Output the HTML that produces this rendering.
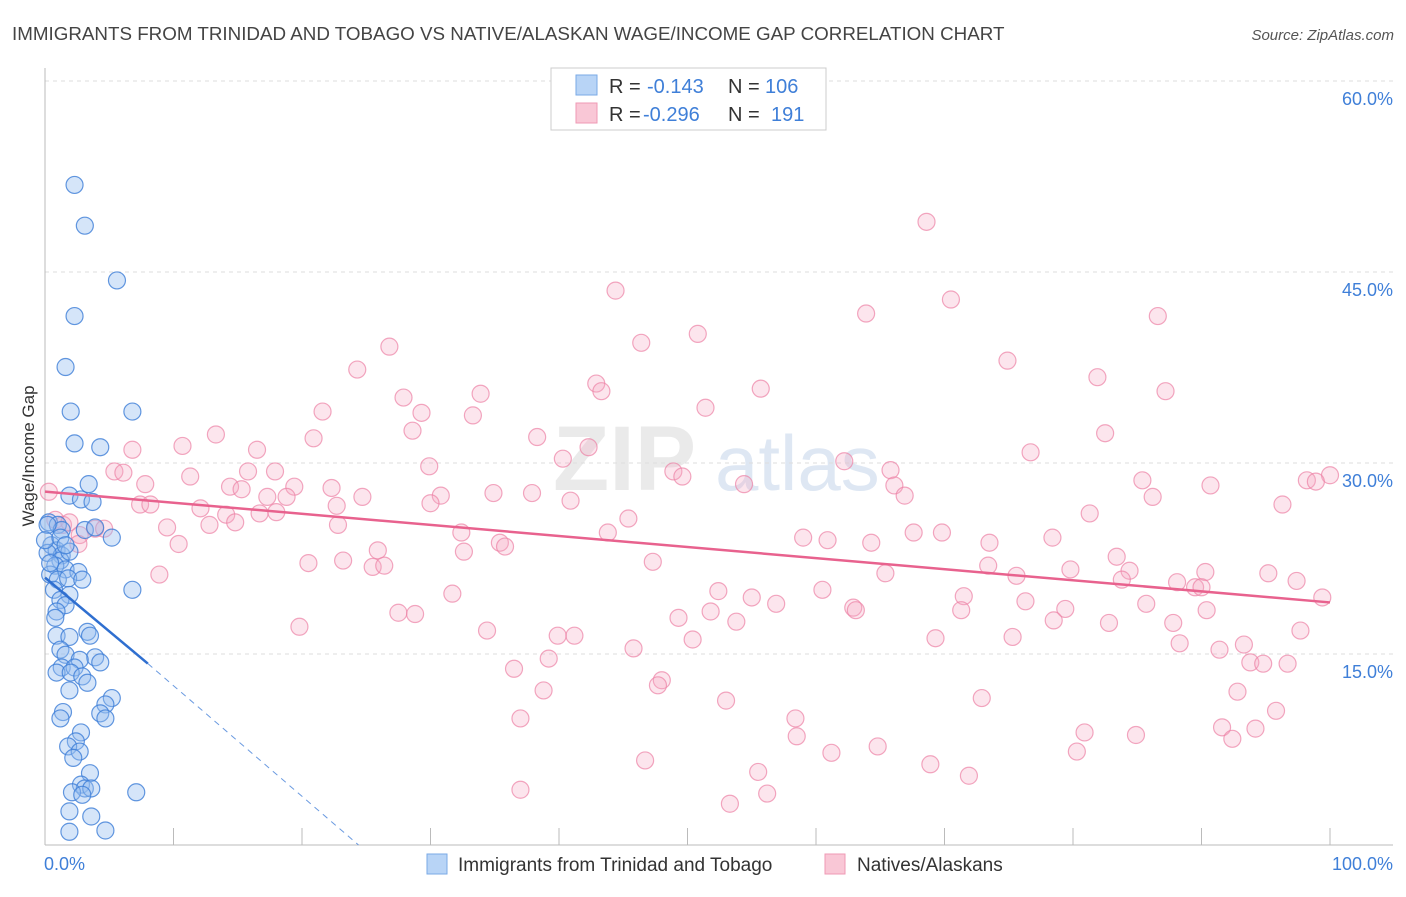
<!DOCTYPE html>
<html><head><meta charset="utf-8">
<style>
body{margin:0;background:#fff;font-family:"Liberation Sans",sans-serif;}
svg text{font-family:"Liberation Sans",sans-serif;}
</style></head>
<body>
<svg id="chart" width="1406" height="892" viewBox="0 0 1406 892" xmlns="http://www.w3.org/2000/svg">
<text x="12" y="40" font-size="18.8" fill="#444">IMMIGRANTS FROM TRINIDAD AND TOBAGO VS NATIVE/ALASKAN WAGE/INCOME GAP CORRELATION CHART</text>
<text x="1394" y="40" font-size="15" fill="#555" text-anchor="end" font-style="italic">Source: ZipAtlas.com</text>
<g>
<text x="553" y="490" font-size="92" fill="#ddd" font-family="Liberation Serif" font-weight="bold" opacity="0.6">ZIP</text>
<text x="715" y="490" font-size="78" fill="#c9d8ec" opacity="0.6">atlas</text>
</g>
<g id="grid"></g>
<g id="axes"></g>
<g id="pink"></g>
<g id="blue"></g>
<g id="lines"></g>
<text transform="translate(34,456) rotate(-90)" font-size="17" fill="#333" text-anchor="middle">Wage/Income Gap</text>
<g>
<rect x="551" y="68" width="275" height="62" fill="#fff" stroke="#ccc"/>
<rect x="576" y="75" width="21" height="20" fill="#b8d4f6" stroke="#7aaae6"/>
<rect x="576" y="103" width="21" height="20" fill="#f9c7d6" stroke="#ef9ab4"/>
<text x="609" y="93" font-size="20" fill="#333">R =</text>
<text x="647" y="93" font-size="20" fill="#3f7fd8">-0.143</text>
<text x="728" y="93" font-size="20" fill="#333">N =</text>
<text x="765" y="93" font-size="20" fill="#3f7fd8">106</text>
<text x="609" y="121" font-size="20" fill="#333">R =</text>
<text x="643" y="121" font-size="20" fill="#3f7fd8">-0.296</text>
<text x="728" y="121" font-size="20" fill="#333">N =</text>
<text x="771" y="121" font-size="20" fill="#3f7fd8">191</text>
</g>
<g>
<rect x="427" y="854" width="20" height="20" fill="#b8d4f6" stroke="#7aaae6"/>
<text x="458" y="871" font-size="19" fill="#333">Immigrants from Trinidad and Tobago</text>
<rect x="825" y="854" width="20" height="20" fill="#f9c7d6" stroke="#ef9ab4"/>
<text x="857" y="871" font-size="19" fill="#333">Natives/Alaskans</text>
</g>
</svg>
<script>
const yTicks=[15,30,45,60];
const yTickLabels=["15.0%","30.0%","45.0%","60.0%"];
const xTicks=[0,10,20,30,40,50,60,70,80,90,100];
const xEndLabels=["0.0%","100.0%"];
const blueX=[2.3,3.1,5.6,2.3,1.6,2.0,6.8,2.3,4.3,1.9,2.8,3.7,3.4,5.2,0.3,1.0,1.3,0.5,0.9,1.3,0.2,1.2,1.9,0.8,1.6,2.6,0.4,1.0,1.8,2.9,0.7,1.9,1.2,1.6,0.9,0.8,6.8,0.9,1.9,3.3,3.5,1.2,1.6,3.9,2.7,1.3,0.9,4.3,2.3,2.0,2.9,3.3,1.9,5.2,4.7,1.4,4.3,4.7,1.2,2.8,2.4,1.8,2.7,2.2,3.5,2.8,3.1,2.1,3.6,7.1,2.9,1.9,3.6,1.9,4.7,0.2,0.0,3.1,3.9,1.2,0.4,1.6];
const blueY=[53.1,49.9,45.6,42.8,38.8,35.3,35.3,32.8,32.5,28.7,28.4,28.2,29.6,25.4,26.6,26.4,26.0,24.8,24.4,24.0,24.2,23.6,24.3,23.2,22.9,22.7,22.5,22.1,22.2,22.1,21.3,20.9,20.5,20.1,19.6,19.1,21.3,17.7,17.6,18.0,17.7,16.6,16.2,16.0,15.8,15.2,14.8,15.6,15.2,14.8,14.5,14.0,13.4,12.8,12.3,11.7,11.6,11.2,11.2,10.1,9.4,9.0,8.6,8.1,6.9,6.0,5.7,5.4,5.7,5.4,5.2,3.9,3.5,2.3,2.4,26.4,25.2,26.0,26.2,25.4,23.4,24.8].map(v=>+(v-1.26).toFixed(2));
const pinkX=[68.6,44.4,70.5,63.9,86.6,50.8,46.4,26.8,74.9,24.3,42.9,81.9,55.7,43.3,33.9,87.2,27.9,51.4,21.6,29.3,33.3,82.5,28.6,38.3,13.3,10.7,20.9,6.8,16.5,76.7,40.3,29.9,42.3,62.2,48.9,5.4,6.1,15.8,17.9,11.3,85.4,90.7,98.2,100,98.9,65.8,49.6,54.4,66.1,7.8,14.4,15.3,19.4,22.3,30.8,34.9,37.9,18.8,17.3,66.9,86.2,96.3,7.4,8.2,22.7,24.7,30.0,40.9,12.1,14.1,18.0,9.5,12.8,14.8,16.7,22.8,32.4,81.3,45.4,43.8,59.0,60.9,64.3,67.6,69.8,73.5,78.4,10.4,25.9,32.6,35.4,35.8,73.4,83.4,20.5,23.2,47.3,25.5,26.4,84.4,90.3,95.2,79.8,8.9,65.4,75.6,71.5,55.0,52.4,60.5,71.3,31.7,88.1,89.5,90.0,83.8,97.4,99.4,56.9,51.8,49.3,62.9,79.4,85.7,90.4,76.3,87.8,53.8,27.5,28.8,19.8,34.4,39.9,41.2,50.4,63.1,78.5,82.8,97.7,88.3,91.4,93.3,93.8,94.8,96.7,75.3,69.3,45.8,39.2,36.5,48.0,47.7,38.8,53.0,72.9,92.8,95.8,58.4,37.0,80.9,91.6,94.2,58.5,84.9,92.4,64.8,61.2,80.3,46.7,68.9,55.5,71.9,37.0,56.2,53.3,0.3,0.8,1.4,1.9,2.7,3.9,4.6,2.6];
const pinkY=[50.2,44.8,44.1,43.0,42.8,41.4,40.7,40.4,39.3,38.6,37.5,38.0,37.1,36.9,36.7,36.9,36.4,35.6,35.3,35.2,35.0,33.6,33.8,33.3,33.5,32.6,33.2,32.3,32.3,32.1,31.6,31.0,32.5,31.4,30.6,30.6,30.5,30.6,30.6,30.2,29.9,29.5,29.9,30.3,29.8,30.7,30.2,29.6,29.5,29.6,29.4,29.2,29.4,29.3,28.7,28.9,28.9,28.6,28.6,28.7,28.6,28.0,28.0,28.0,27.9,28.6,28.1,28.3,27.7,27.2,27.4,26.2,26.4,26.6,27.3,26.4,25.8,27.3,26.9,25.8,25.4,25.2,25.0,25.8,25.8,25.0,25.4,24.9,24.4,24.3,25.0,24.7,23.2,23.9,23.4,23.6,23.5,23.1,23.2,22.8,22.7,22.6,22.9,22.5,22.6,22.4,20.8,20.7,21.2,21.3,19.7,21.0,21.9,21.5,21.5,22.1,22.0,20.7,20.2,19.6,19.1,19.9,19.8,20.2,19.7,20.4,18.7,18.8,19.5,19.4,18.4,18.1,17.7,17.7,17.4,19.7,18.9,18.7,18.1,17.1,16.6,17.0,15.6,15.5,15.5,17.6,17.5,16.7,15.9,15.1,14.2,13.8,13.4,12.6,12.8,13.3,11.8,11.2,11.2,10.1,10.5,10.4,9.8,9.9,9.6,9.0,8.5,8.6,7.9,7.6,7.0,6.7,5.6,5.3,4.5,29.0,26.8,26.4,26.6,25.6,26.1,26.1,24.9].map(v=>+(v-1.26).toFixed(2));
const blueTrendX=[0,8,24.4];
const blueTrendY=[21.0,14.25,0];
const pinkTrendX=[0,100];
const pinkTrendY=[27.75,19.05];

const NS="http://www.w3.org/2000/svg";
const X=v=>45+v*12.85;
const Y=v=>845-v*12.733;
function mk(tag,attrs,parent){const e=document.createElementNS(NS,tag);for(const k in attrs)e.setAttribute(k,attrs[k]);parent.appendChild(e);return e;}
const grid=document.getElementById('grid'),axes=document.getElementById('axes');
yTicks.forEach((t,i)=>{
  const l=mk('line',{x1:45,x2:1393,y1:Y(t),y2:Y(t),stroke:'#ddd','stroke-dasharray':'4,4'},grid);
  
  
  const tx=mk('text',{x:1393,y:Y(t)+24,'font-size':18,fill:'#3f7fd8','text-anchor':'end'},axes);
  tx.textContent=yTickLabels[i];
  
  
});
const yl=mk('line',{x1:45,x2:45,y1:68,y2:845,stroke:'#bbb'},axes);


const xl=mk('line',{x1:45,x2:1393,y1:845,y2:845,stroke:'#bbb'},axes);


xTicks.forEach(t=>{
  const l=mk('line',{x1:X(t),x2:X(t),y1:828,y2:845,stroke:'#bbb'},axes);
  
  
});
[[0,'start',44],[100,'end',1393]].forEach((d,i)=>{
  const tx=mk('text',{x:d[2],y:870,'font-size':18,fill:'#3f7fd8','text-anchor':d[1]},axes);
  tx.textContent=xEndLabels[i];
  
  
});
const pg=document.getElementById('pink');
pinkX.forEach((x,i)=>{
  const c=mk('circle',{cx:X(x),cy:Y(pinkY[i]),r:8.5,fill:'rgba(246,170,196,0.3)',stroke:'rgba(236,130,165,0.7)','stroke-width':1.2},pg);
  
  
});
const bg=document.getElementById('blue');
blueX.forEach((x,i)=>{
  const c=mk('circle',{cx:X(x),cy:Y(blueY[i]),r:8.5,fill:'rgba(150,190,240,0.4)',stroke:'rgba(60,125,215,0.8)','stroke-width':1.2},bg);
  
  
});
const lg=document.getElementById('lines');
const pl=mk('line',{x1:X(pinkTrendX[0]),y1:Y(pinkTrendY[0]),x2:X(pinkTrendX[1]),y2:Y(pinkTrendY[1]),stroke:'#e8628e','stroke-width':2.5},lg);


const bl=mk('line',{x1:X(blueTrendX[0]),y1:Y(blueTrendY[0]),x2:X(blueTrendX[1]),y2:Y(blueTrendY[1]),stroke:'#2f6fd0','stroke-width':2.5},lg);


const bd=mk('line',{x1:X(blueTrendX[1]),y1:Y(blueTrendY[1]),x2:X(blueTrendX[2]),y2:Y(blueTrendY[2]),stroke:'#6a9ae0','stroke-width':1,'stroke-dasharray':'6,5'},lg);


</script>
</body></html>
